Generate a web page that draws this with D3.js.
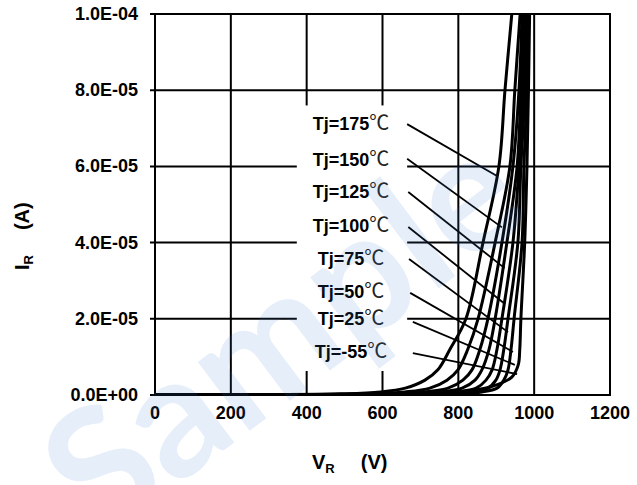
<!DOCTYPE html>
<html>
<head>
<meta charset="utf-8">
<script src="https://cdn.jsdelivr.net/npm/d3@7"></script>
<style>
body { margin: 0; background: #fff; }
svg { display: block; font-family: "Liberation Sans", Arial, sans-serif; }
</style>
</head>
<body>
<svg id="chart" width="637" height="485"></svg>
<script>
/* Reverse current vs reverse voltage, one curve per junction temperature */
var xTicks = [0, 200, 400, 600, 800, 1000, 1200];
var yTicks = [0, 2e-5, 4e-5, 6e-5, 8e-5, 1e-4];
var yTickLabels = ["0.0E+00", "2.0E-05", "4.0E-05", "6.0E-05", "8.0E-05", "1.0E-04"];

var temps = ["175", "150", "125", "100", "75", "50", "25", "-55"];

// [V, A]
var tj175 = [[0,0],[300,1e-7],[490,3e-7],[595,8e-7],[660,1.8e-6],[712,3.9e-6],[746,6.6e-6],[778,1.2e-5],[820,2.0e-5],[865,4.0e-5],[907,6.0e-5],[923,8.0e-5],[941,1.0e-4]];
var tj150 = [[0,0],[350,1e-7],[567,3e-7],[659,8e-7],[725,1.8e-6],[770,3.9e-6],[799,6.6e-6],[825,1.2e-5],[852,2.0e-5],[897,4.0e-5],[936,6.0e-5],[949,8.0e-5],[963,1.0e-4]];
var tj125 = [[0,0],[400,1e-7],[620,3e-7],[712,8e-7],[773,1.8e-6],[812,3.9e-6],[836,6.6e-6],[857,1.2e-5],[878,2.0e-5],[915,4.0e-5],[944,6.0e-5],[960,8.0e-5],[968,1.0e-4]];
var tj100 = [[0,0],[430,1e-7],[659,3e-7],[752,8e-7],[810,1.8e-6],[844,3.9e-6],[862,6.6e-6],[881,1.2e-5],[897,2.0e-5],[928,4.0e-5],[955,6.0e-5],[965,8.0e-5],[972,1.0e-4]];
var tj75 = [[0,0],[460,1e-7],[699,3e-7],[791,8e-7],[847,1.8e-6],[873,3.9e-6],[889,6.6e-6],[902,1.2e-5],[915,2.0e-5],[944,4.0e-5],[960,6.0e-5],[970,8.0e-5],[976,1.0e-4]];
var tj50 = [[0,0],[490,1e-7],[752,3e-7],[831,8e-7],[878,1.8e-6],[899,3.9e-6],[910,6.6e-6],[920,1.2e-5],[931,2.0e-5],[957,4.0e-5],[965,6.0e-5],[976,8.0e-5],[980,1.0e-4]];
var tj25 = [[0,0],[520,1e-7],[791,3e-7],[862,8e-7],[902,1.8e-6],[920,3.9e-6],[931,6.6e-6],[939,1.2e-5],[947,2.0e-5],[968,4.0e-5],[973,6.0e-5],[981,8.0e-5],[984,1.0e-4]];
var tjm55 = [[0,0],[560,1e-7],[752,2e-7],[804,8e-7],[884,2.1e-6],[941,4.7e-6],[958,7.9e-6],[962,1.2e-5],[965,2.0e-5],[975,4.0e-5],[981,6.0e-5],[985,8.0e-5],[988,1.0e-4]];
var curves = [tj175, tj150, tj125, tj100, tj75, tj50, tj25, tjm55];

// label anchor [V, A] and leader line end on its curve [V, A]
var labelPos = [[517,7.10e-5],[517,6.17e-5],[517,5.33e-5],[517,4.44e-5],[517,3.57e-5],[517,2.70e-5],[517,1.99e-5],[517,1.13e-5]];
var leaderStart = [[665,7.11e-5],[665,6.20e-5],[668,5.33e-5],[668,4.41e-5],[670,3.57e-5],[673,2.68e-5],[680,1.92e-5],[680,1.10e-5]];
var leaderEnd = [[902,5.75e-5],[915,4.40e-5],[922,3.33e-5],[923,2.39e-5],[931,1.65e-5],[944,1.13e-5],[949,7.9e-6],[955,5.5e-6]];

var plot = {left: 155, right: 610, top: 14, bottom: 395};

var svg = d3.select("#chart");

var x = d3.scaleLinear().domain([0, 1200]).range([plot.left, plot.right]);
var y = d3.scaleLinear().domain([0, 1e-4]).range([plot.bottom, plot.top]);

/* grid */
svg.append("g")
    .selectAll("line")
    .data(xTicks)
    .enter()
    .append("line")
    .attr("x1", d => x(d)).attr("x2", d => x(d))
    .attr("y1", plot.top).attr("y2", plot.bottom)
    .attr("stroke", "#000").attr("stroke-width", 2);

svg.append("g")
    .selectAll("line")
    .data(yTicks)
    .enter()
    .append("line")
    .attr("x1", plot.left - 5).attr("x2", plot.right)
    .attr("y1", d => y(d)).attr("y2", d => y(d))
    .attr("stroke", "#000").attr("stroke-width", 2);

/* white box behind the labels */
svg.append("rect")
    .attr("x", x(374)).attr("y", y(7.6e-5))
    .attr("width", x(665) - x(374))
    .attr("height", y(6.3e-6) - y(7.6e-5))
    .attr("fill", "#fff");

/* tick labels */
svg.append("g")
    .selectAll("text")
    .data(xTicks)
    .enter()
    .append("text")
    .attr("x", d => x(d))
    .attr("y", plot.bottom + 24)
    .attr("text-anchor", "middle")
    .attr("font-size", 18)
    .attr("font-weight", "bold")
    .text(d => d);

svg.append("g")
    .selectAll("text")
    .data(yTicks)
    .enter()
    .append("text")
    .attr("x", 138)
    .attr("y", d => y(d) + 6)
    .attr("text-anchor", "end")
    .attr("font-size", 18)
    .attr("font-weight", "bold")
    .text((d, i) => yTickLabels[i]);

/* axis titles */
var xt = svg.append("text")
    .attr("x", 312).attr("y", 469)
    .attr("font-size", 20).attr("font-weight", "bold");
xt.append("tspan").text("V");
xt.append("tspan").attr("font-size", 13).attr("dy", 4).text("R");
xt.append("tspan").attr("dy", -4).attr("dx", 26).text("(V)");

var yt = svg.append("text")
    .attr("transform", "translate(29,270) rotate(-90)")
    .attr("font-size", 20).attr("font-weight", "bold");
yt.append("tspan").text("I");
yt.append("tspan").attr("font-size", 13).attr("dy", 4).text("R");
yt.append("tspan").attr("dy", -4).attr("dx", 25).text("(A)");

/* curves */
svg.append("clipPath").attr("id", "clip")
    .append("rect")
    .attr("x", plot.left).attr("y", plot.top)
    .attr("width", plot.right - plot.left)
    .attr("height", plot.bottom - plot.top);

var line = d3.line()
    .x(d => x(d[0]))
    .y(d => y(d[1]))
    .curve(d3.curveCatmullRom.alpha(0.5));

svg.append("g")
    .attr("clip-path", "url(#clip)")
    .selectAll("path")
    .data(curves)
    .enter()
    .append("path")
    .attr("d", line)
    .attr("fill", "none")
    .attr("stroke", "#000")
    .attr("stroke-width", 3);

/* frame */
svg.append("rect")
    .attr("x", plot.left).attr("y", plot.top)
    .attr("width", plot.right - plot.left)
    .attr("height", plot.bottom - plot.top)
    .attr("fill", "none")
    .attr("stroke", "#000")
    .attr("stroke-width", 2);

/* leader lines */
svg.append("g")
    .selectAll("line")
    .data(temps)
    .enter()
    .append("line")
    .attr("x1", (d, i) => x(leaderStart[i][0]))
    .attr("y1", (d, i) => y(leaderStart[i][1]))
    .attr("x2", (d, i) => x(leaderEnd[i][0]))
    .attr("y2", (d, i) => y(leaderEnd[i][1]))
    .attr("stroke", "#000")
    .attr("stroke-width", 1.8);

/* labels */
var lab = svg.append("g")
    .selectAll("text")
    .data(temps)
    .enter()
    .append("text")
    .attr("x", (d, i) => x(labelPos[i][0]))
    .attr("y", (d, i) => y(labelPos[i][1]) + 6)
    .attr("text-anchor", "middle")
    .attr("font-size", 18);
lab.append("tspan")
    .attr("font-weight", "bold")
    .text(d => "Tj=" + d);
lab.append("tspan")
    .attr("font-family", "Noto Sans CJK JP")
    .attr("font-size", 20)
    .attr("fill", "#222")
    .text("\u2103");

/* watermark */
svg.append("text")
    .attr("transform", "translate(292,345) rotate(-37)")
    .attr("text-anchor", "middle")
    .attr("dominant-baseline", "middle")
    .attr("font-family", "Lato, sans-serif")
    .attr("font-weight", "bold")
    .attr("font-size", 168)
    .attr("fill", "#3b7fd0")
    .attr("fill-opacity", 0.13)
    .text("Sample");
</script>
</body>
</html>
